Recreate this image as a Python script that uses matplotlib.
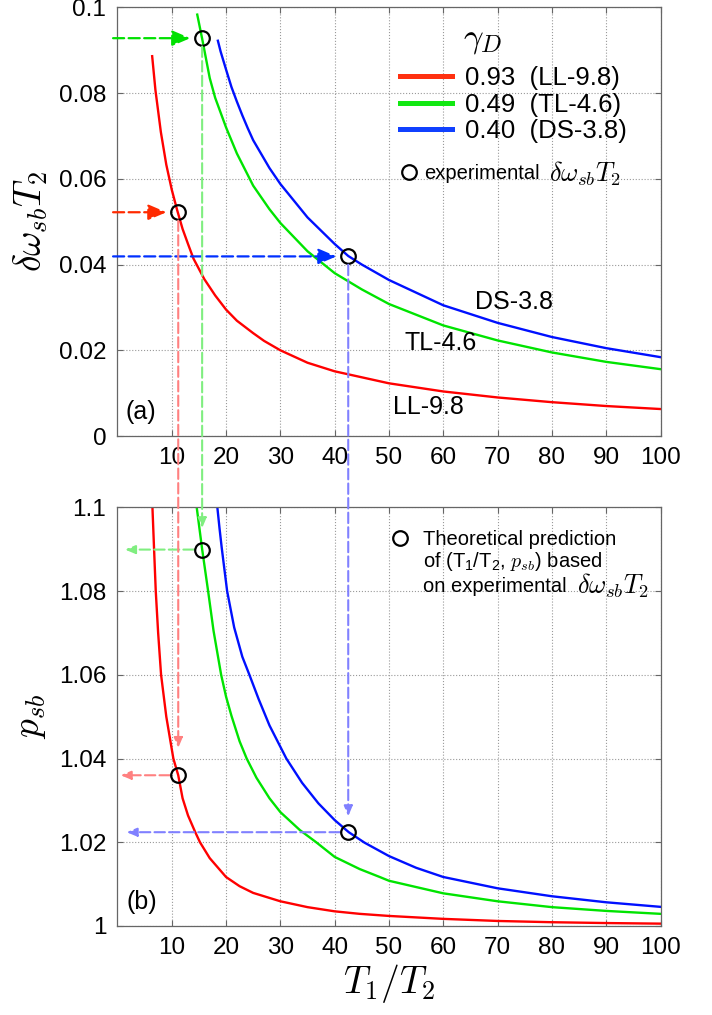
import matplotlib
matplotlib.use('Agg')
import matplotlib.pyplot as plt
from matplotlib.lines import Line2D
from matplotlib.patches import ConnectionPatch

plt.rcParams['font.family'] = ['Liberation Sans', 'DejaVu Sans']
plt.rcParams['mathtext.fontset'] = 'cm'

# ---- data ----
# panel (a): delta omega_sb * T2 versus T1/T2
red_x_a = [6.4, 7, 8, 9, 10, 11, 12, 13, 14, 16, 18, 20, 22, 25, 27, 30, 35, 40, 50, 60, 70,
           80, 90, 100]
red_y_a = [0.0886, 0.0807, 0.0709, 0.0633, 0.0575, 0.0527, 0.0483, 0.0448, 0.0414, 0.0366,
           0.0328, 0.0295, 0.0269, 0.0240, 0.0222, 0.0200, 0.0171, 0.0151, 0.0123, 0.0104,
           0.0090, 0.0079, 0.0070, 0.0063]
green_x_a = [14.7, 15.6, 17, 18, 20, 22, 25, 28, 30, 35, 40, 45, 50, 60, 70, 80, 90, 100]
green_y_a = [0.0983, 0.0927, 0.0835, 0.0789, 0.0720, 0.0659, 0.0584, 0.0529, 0.0497, 0.0431,
             0.0380, 0.0342, 0.0308, 0.0258, 0.0223, 0.0195, 0.0173, 0.0156]
blue_x_a = [18.5, 19, 20, 21, 22, 23, 24, 25, 28, 30, 35, 40, 42.5, 45, 50, 60, 70, 80, 90, 100]
blue_y_a = [0.0922, 0.0897, 0.0855, 0.0814, 0.0780, 0.0748, 0.0718, 0.0690, 0.0625, 0.0588,
            0.0510, 0.0448, 0.0420, 0.0400, 0.0364, 0.0305, 0.0264, 0.0231, 0.0205, 0.0184]

# panel (b): p_sb versus T1/T2
red_x_b = [6.45, 6.75, 7.06, 7.5, 8.04, 9, 10.3, 11.2, 12, 13, 14.3, 15.2, 17, 20, 22.5, 25,
           30, 35, 40, 44.6, 50, 60, 70, 80, 90, 100]
red_y_b = [1.100, 1.090, 1.080, 1.070, 1.060, 1.050, 1.040, 1.036, 1.0305, 1.0264, 1.0225,
           1.020, 1.0162, 1.0117, 1.0095, 1.0079, 1.0059, 1.0045, 1.0035, 1.0029, 1.0024,
           1.0017, 1.0012, 1.0009, 1.0007, 1.00056]
green_x_b = [14.6, 15.6, 16.7, 17.7, 19.1, 20, 21, 22.5, 23.8, 25.6, 28, 30, 33.6, 36.6, 40,
             44.6, 48.3, 50, 60, 70, 80, 90, 100]
green_y_b = [1.100, 1.090, 1.080, 1.0705, 1.060, 1.0548, 1.0502, 1.0441, 1.040, 1.0354, 1.0305,
             1.0272, 1.0229, 1.020, 1.0165, 1.0136, 1.0117, 1.0108, 1.0078, 1.0059, 1.0045,
             1.0036, 1.0029]
blue_x_b = [18.4, 18.8, 19.2, 20.2, 21.5, 23, 24.3, 26, 28, 31.1, 34, 37, 40, 42.6, 45.5, 50,
            55, 60, 70, 80, 90, 100]
blue_y_b = [1.100, 1.095, 1.0904, 1.080, 1.0713, 1.0643, 1.060, 1.0542, 1.0479, 1.040, 1.0342,
            1.0293, 1.0253, 1.0224, 1.0199, 1.0167, 1.0139, 1.0117, 1.0090, 1.0071, 1.00566,
            1.00457]

# experimental points (red, green, blue)
exp_x = [11.2, 15.6, 42.5]
exp_dw = [0.0522, 0.0928, 0.0419]
pred_p = [1.036, 1.0899, 1.0224]
tip_p = [1.0425, 1.095, 1.0262]      # where the down arrows end in (b)
tip_x = [0.6, 1.4, 1.7]              # where the left arrows end in (b)

legend_labels = ['0.93  (LL-9.8)', '0.49  (TL-4.6)', '0.40  (DS-3.8)']
curve_names = ['LL-9.8', 'TL-4.6', 'DS-3.8']
name_pos = [(50.7, 0.0068), (52.9, 0.0217), (65.9, 0.0313)]

line_cols = ['#ff0000', '#00e400', '#0010ff']
leg_cols = ['#ff3010', '#12e812', '#1040ff']
arrow_cols = ['#ff2a00', '#00e000', '#0030ff']
light_cols = ['#ff8080', '#80ee80', '#8080ff']

fig = plt.figure(figsize=(7.12, 10.15), dpi=100)
ax1 = fig.add_axes([0.1649, 0.5704, 0.7628, 0.4224])
ax2 = fig.add_axes([0.1649, 0.0877, 0.7628, 0.4125])

for ax in (ax1, ax2):
    ax.set_xlim(0, 100)
    ax.set_xticks(range(10, 101, 10))
    ax.grid(True, linestyle=':', color='#9a9a9a', linewidth=0.8)
    ax.tick_params(direction='in', top=True, right=True, length=4, color='#666666',
                   labelsize=17.5, pad=8)
    for s in ax.spines.values():
        s.set_color('#666666')
        s.set_linewidth(0.9)

ax1.set_ylim(0, 0.1)
ax1.set_yticks([0, 0.02, 0.04, 0.06, 0.08, 0.1])
ax1.set_yticklabels(['0', '0.02', '0.04', '0.06', '0.08', '0.1'])
ax2.set_ylim(1, 1.1)
ax2.set_yticks([1, 1.02, 1.04, 1.06, 1.08, 1.1])
ax2.set_yticklabels(['1', '1.02', '1.04', '1.06', '1.08', '1.1'])

curves_a = [(red_x_a, red_y_a), (green_x_a, green_y_a), (blue_x_a, blue_y_a)]
curves_b = [(red_x_b, red_y_b), (green_x_b, green_y_b), (blue_x_b, blue_y_b)]
for (xa, ya), (xb, yb), c in zip(curves_a, curves_b, line_cols):
    ax1.plot(xa, ya, color=c, lw=1.7)
    ax2.plot(xb, yb, color=c, lw=1.7)

ax1.plot(exp_x, exp_dw, 'o', mfc='none', mec='k', ms=10.5, mew=1.6, zorder=6)
ax2.plot(exp_x, pred_p, 'o', mfc='none', mec='k', ms=10.5, mew=1.6, zorder=6)

# arrows
for i in range(3):
    ax1.annotate('', xy=(exp_x[i], exp_dw[i]), xytext=(-0.8, exp_dw[i]),
                 arrowprops=dict(arrowstyle='-|>,head_length=1.1,head_width=0.47',
                                 mutation_scale=10, color=arrow_cols[i], lw=1.6,
                                 linestyle=(0, (5, 2)), shrinkA=0, shrinkB=8.5),
                 annotation_clip=False)
    con = ConnectionPatch(xyA=(exp_x[i], exp_dw[i]), coordsA=ax1.transData,
                          xyB=(exp_x[i], tip_p[i]), coordsB=ax2.transData,
                          arrowstyle='-|>,head_length=0.6,head_width=0.25', mutation_scale=10,
                          color=light_cols[i], lw=1.5, linestyle=(0, (5, 2)),
                          shrinkA=6, shrinkB=0, zorder=5)
    fig.add_artist(con)
    ax2.annotate('', xy=(tip_x[i], pred_p[i]), xytext=(exp_x[i], pred_p[i]),
                 arrowprops=dict(arrowstyle='-|>,head_length=0.6,head_width=0.25',
                                 mutation_scale=10, color=light_cols[i], lw=1.5,
                                 linestyle=(0, (5, 2)), shrinkA=6, shrinkB=0),
                 annotation_clip=False)

for name, (tx, ty) in zip(curve_names, name_pos):
    ax1.text(tx, ty, name, fontsize=18, va='center')

ax1.text(0.014, 0.057, '(a)', transform=ax1.transAxes, fontsize=18, va='center')
ax2.text(0.016, 0.058, '(b)', transform=ax2.transAxes, fontsize=18, va='center')

ax1.set_ylabel(r'$\delta\omega_{sb}T_2$', fontsize=27, labelpad=6)
ax2.set_ylabel(r'$p_{sb}$', fontsize=27, labelpad=8)
ax2.set_xlabel(r'$T_1/T_2$', fontsize=27, labelpad=2)

# legends
handles = [Line2D([], [], color=c, lw=3.6) for c in leg_cols]
leg1 = ax1.legend(handles, legend_labels, loc='upper left', bbox_to_anchor=(0.5204, 0.862),
                  frameon=False, fontsize=18.5, borderpad=0, borderaxespad=0,
                  handlelength=2.02, handletextpad=0.5, labelspacing=0.09)
ax1.add_artist(leg1)
ax1.text(0.636, 0.926, r'$\gamma_D$', transform=ax1.transAxes, fontsize=25, va='center')

circ = Line2D([], [], ls='none', marker='o', mfc='none', mec='k', ms=10.5, mew=1.6)
ax1.legend([circ], ['experimental'], loc='center left',
           bbox_to_anchor=(0.5228, 0.6127), frameon=False, fontsize=14.5, borderpad=0,
           borderaxespad=0, handlelength=0.8, handletextpad=0.34)
ax1.text(0.7947, 0.6127, r'$\delta\omega_{sb}T_2$', transform=ax1.transAxes, fontsize=19,
         va='center')

ax2.legend([circ], ['Theoretical prediction'], loc='center left',
           bbox_to_anchor=(0.5056, 0.9219), frameon=False, fontsize=14.5,
           borderpad=0, borderaxespad=0, handlelength=0.8, handletextpad=0.76)
ax2.text(0.5633, 0.8694, 'of (T$\\mathregular{_1}$/T$\\mathregular{_2}$, $p_{sb}$) based',
         transform=ax2.transAxes, fontsize=14.5, va='center')
ax2.text(0.5633, 0.812, 'on experimental', transform=ax2.transAxes, fontsize=14.5,
         va='center')
ax2.text(0.8463, 0.812, r'$\delta\omega_{sb}T_2$', transform=ax2.transAxes, fontsize=19,
         va='center')

fig.savefig('out.png', dpi=100)
